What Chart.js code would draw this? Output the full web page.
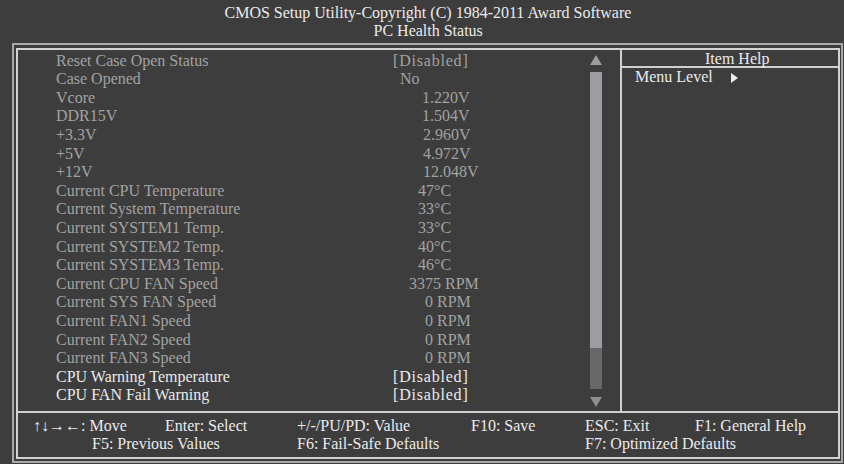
<!DOCTYPE html>
<html>
<head>
<meta charset="utf-8">
<script src="https://cdn.jsdelivr.net/npm/chart.js@4"></script>
<style>
    html, body { margin: 0; padding: 0; }
    body {
        width: 844px; height: 464px; position: relative; overflow: hidden;
        background: #3d3d3d; font-family: "Liberation Serif", "DejaVu Serif", serif;
        font-size: 16px; line-height: 18px; color: #ebebeb;
    }
    .t { position: absolute; white-space: pre; }
    .dim { color: #a2a2a2; }
    .box { position: absolute; box-sizing: border-box; }
    .hline { position: absolute; height: 2px; background: #cfcfcf; }
    .vline { position: absolute; width: 2px; background: #cfcfcf; }
    #scroll { position: absolute; left: 590px; top: 72px; width: 12px; height: 317px; }
    .tri { position: absolute; width: 0; height: 0; }
</style>
</head>
<body>
<div id="screen"></div>
<div id="scroll"><canvas id="scrollbar" width="12" height="317"></canvas></div>
<script>
    // setup items on the PC Health Status page
    const itemLabels = [
        'Reset Case Open Status', 'Case Opened', 'Vcore', 'DDR15V', '+3.3V', '+5V', '+12V',
        'Current CPU Temperature', 'Current System Temperature', 'Current SYSTEM1 Temp.',
        'Current SYSTEM2 Temp.', 'Current SYSTEM3 Temp.', 'Current CPU FAN Speed',
        'Current SYS FAN Speed', 'Current FAN1 Speed', 'Current FAN2 Speed', 'Current FAN3 Speed',
        'CPU Warning Temperature', 'CPU FAN Fail Warning'
    ];
    const itemValues = [
        '[Disabled]', 'No', '1.220V', '1.504V', '2.960V', '4.972V', '12.048V',
        '47°C', '33°C', '33°C', '40°C', '46°C', '3375 RPM',
        '0 RPM', '0 RPM', '0 RPM', '0 RPM', '[Disabled]', '[Disabled]'
    ];
    const itemEnabled = [
        false, false, false, false, false, false, false, false, false, false,
        false, false, false, false, false, false, false, true, true
    ];
    const titleLines = ['CMOS Setup Utility-Copyright (C) 1984-2011 Award Software', 'PC Health Status'];
    const footerKeys = [
        ['↑↓→←: Move', 'Enter: Select', '+/-/PU/PD: Value', 'F10: Save', 'ESC: Exit', 'F1: General Help'],
        ['F5: Previous Values', 'F6: Fail-Safe Defaults', 'F7: Optimized Defaults']
    ];
    // scrollbar: thumb and remaining track, in percent of track length
    const scrollThumb = [0, 87];
    const scrollRest = [87, 100];

    // layout (text-mode columns drawn with a proportional font)
    const valueX = [393, 400, 422, 422, 423, 423, 423, 418, 418, 418, 418, 418, 409, 425, 425, 425, 425, 393, 393];
    const footerX = [[33, 165, 297, 471, 585, 695], [92, 297, 585]];
    const rowTop0 = 51.5, rowStep = 18.6;

    const screen = document.getElementById('screen');
    function addText(str, x, y, cls) {
        const d = document.createElement('div');
        d.className = 't' + (cls ? ' ' + cls : '');
        d.textContent = str;
        d.style.left = x + 'px';
        d.style.top = y + 'px';
        screen.appendChild(d);
        return d;
    }
    function addEl(cls, css) {
        const d = document.createElement('div');
        d.className = cls;
        Object.assign(d.style, css);
        screen.appendChild(d);
        return d;
    }

    // title, centred
    titleLines.forEach((line, i) => {
        const d = addText(line, 0, i === 0 ? 3.5 : 21.5);
        d.style.left = (428 - d.offsetWidth / 2) + 'px';
    });

    // frames
    addEl('box', { left: '12px', top: '43px', width: '831px', height: '420px', border: '2px solid #a9a9a9' });
    addEl('box', { left: '16px', top: '48px', width: '824px', height: '411px', border: '2px solid #d2d2d2' });
    addEl('vline', { left: '620px', top: '48px', height: '365px' });
    addEl('hline', { left: '620px', top: '66px', width: '218px' });
    addEl('hline', { left: '16px', top: '411px', width: '823px' });

    // item rows
    itemLabels.forEach((label, i) => {
        const y = rowTop0 + i * rowStep;
        const cls = itemEnabled[i] ? '' : 'dim';
        addText(label, 56, y, cls);
        const v = addText(itemValues[i], valueX[i], y, cls);
        if (itemValues[i].startsWith('[')) v.style.letterSpacing = '0.8px';
    });

    // item help panel
    addText('Item Help', 705, 49.5);
    addText('Menu Level', 635, 68);
    addEl('tri', { left: '731px', top: '73px', borderTop: '5px solid transparent', borderBottom: '5px solid transparent', borderLeft: '7px solid #ebebeb' });

    // scroll arrows
    addEl('tri', { left: '590px', top: '55px', borderLeft: '6px solid transparent', borderRight: '6px solid transparent', borderBottom: '10px solid #9c9ca1' });
    addEl('tri', { left: '590px', top: '397px', borderLeft: '6px solid transparent', borderRight: '6px solid transparent', borderTop: '10px solid #8e8e93' });

    // footer
    footerKeys.forEach((row, r) => {
        row.forEach((key, k) => addText(key, footerX[r][k], r === 0 ? 417 : 435));
    });

    // scrollbar drawn as floating bars
    new Chart(document.getElementById('scrollbar'), {
        type: 'bar',
        data: {
            labels: ['scroll'],
            datasets: [
                { data: [scrollThumb], backgroundColor: '#9c9ca1', barPercentage: 1, categoryPercentage: 1, grouped: false },
                { data: [scrollRest], backgroundColor: '#67676a', barPercentage: 1, categoryPercentage: 1, grouped: false }
            ]
        },
        options: {
            responsive: false,
            animation: false,
            events: [],
            layout: { padding: 0 },
            plugins: { legend: { display: false }, tooltip: { enabled: false } },
            scales: {
                x: { display: false },
                y: { display: false, reverse: true, min: 0, max: 100 }
            }
        }
    });
</script>
</body>
</html>
